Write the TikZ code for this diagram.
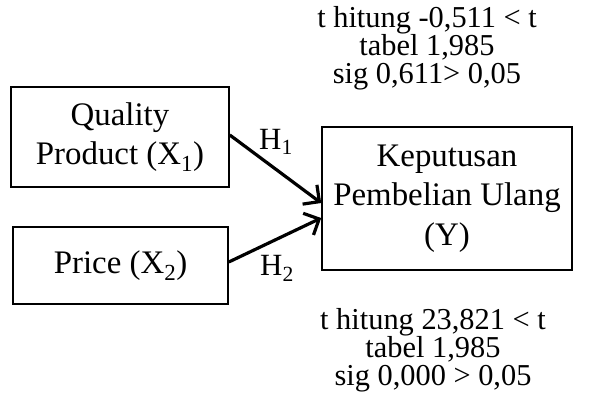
\documentclass[tikz,border=0pt]{standalone}
\usepackage{fontspec}
\setmainfont{Liberation Serif}
\usetikzlibrary{arrows.meta}
\tikzset{
  varbox/.style={draw, line width=1.6bp, inner sep=0pt, align=center,
    font=\fontsize{33}{39.5}\selectfont},
  note/.style={inner sep=0pt, align=center, font=\fontsize{30.5}{28}\selectfont},
  hlabel/.style={inner sep=0pt, font=\fontsize{31}{32}\selectfont},
  link/.style={line width=3.2bp, -{Straight Barb[length=12bp,width=24bp,line width=3.2bp]}}
}
\begin{document}
\begin{tikzpicture}[x=1bp,y=-1bp]
\useasboundingbox (0,0) rectangle (589,405);
\node[varbox, minimum width=218bp, minimum height=100bp] (q) at (120,137) {Quality\\Product (X\textsubscript{1})};
\node[varbox, minimum width=215bp, minimum height=77bp] (p) at (120.5,265.5) {Price (X\textsubscript{2})};
\node[varbox, minimum width=250bp, minimum height=143bp] (y) at (447,198.5) {Keputusan\\Pembelian Ulang\\(Y)};
\node[note] (top) at (427,48) {t hitung -0,511 < t\\tabel 1,985\\sig 0,611> 0,05};
\node[note] (bot) at (433,350) {t hitung 23,821 < t\\tabel 1,985\\sig 0,000 > 0,05};
\draw[link] ([yshift=2bp]q.east) -- ([yshift=-4.5bp]y.west);
\draw[link] ([yshift=3.5bp]p.east) -- ([yshift=-19.5bp]y.west);
\node[hlabel] (h1) at (276,142) {H\textsubscript{1}};
\node[hlabel] (h2) at (277,268) {H\textsubscript{2}};
\end{tikzpicture}
\end{document}
